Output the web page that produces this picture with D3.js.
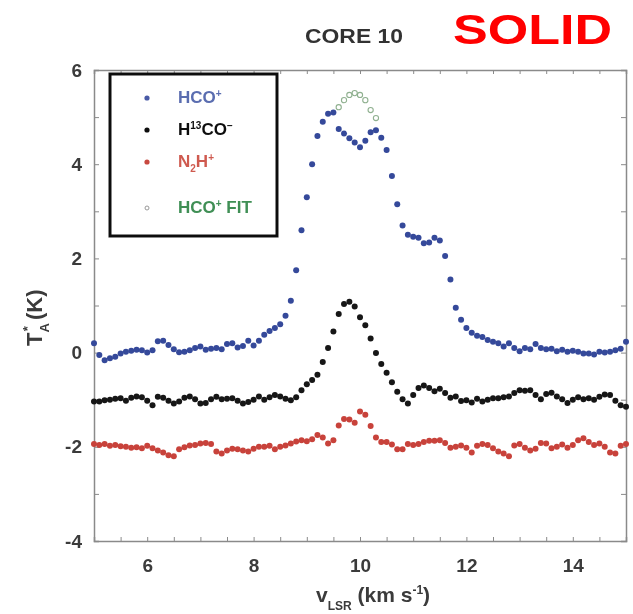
<!DOCTYPE html>
<html>
<head>
<meta charset="utf-8">
<script src="https://cdn.jsdelivr.net/npm/d3@7/dist/d3.min.js"></script>
<style>
  body { margin: 0; background: #fff; }
  text { font-family: "Liberation Sans", Arial, sans-serif; }
</style>
</head>
<body>
<div id="chart"></div>
<script>
// channel velocities (km/s)
var velocity = [
  5.0, 5.1, 5.2, 5.3, 5.4, 5.5, 5.6, 5.7, 5.8, 5.9,
  6.0, 6.1, 6.2, 6.3, 6.4, 6.5, 6.6, 6.7, 6.8, 6.9,
  7.0, 7.1, 7.2, 7.3, 7.4, 7.5, 7.6, 7.7, 7.8, 7.9,
  8.0, 8.1, 8.2, 8.3, 8.4, 8.5, 8.6, 8.7, 8.8, 8.9,
  9.0, 9.1, 9.2, 9.3, 9.4, 9.5, 9.6, 9.7, 9.8, 9.9,
  10.0, 10.1, 10.2, 10.3, 10.4, 10.5, 10.6, 10.7, 10.8, 10.9,
  11.0, 11.1, 11.2, 11.3, 11.4, 11.5, 11.6, 11.7, 11.8, 11.9,
  12.0, 12.1, 12.2, 12.3, 12.4, 12.5, 12.6, 12.7, 12.8, 12.9,
  13.0, 13.1, 13.2, 13.3, 13.4, 13.5, 13.6, 13.7, 13.8, 13.9,
  14.0, 14.1, 14.2, 14.3, 14.4, 14.5, 14.6, 14.7, 14.8, 14.9,
  15.0
];

// HCO+
var hcoPlus = [
  0.2, -0.05, -0.16, -0.12, -0.09, -0.02, 0.02, 0.04, 0.06, 0.05,
  0.0, 0.05, 0.24, 0.25, 0.16, 0.07, 0.01, 0.02, 0.05, 0.1,
  0.13, 0.06, 0.08, 0.1, 0.07, 0.18, 0.2, 0.11, 0.14, 0.25,
  0.15, 0.25, 0.38, 0.46, 0.52, 0.6, 0.78, 1.1, 1.75, 2.6,
  3.3, 4.0, 4.6, 4.9, 5.07, 5.1, 4.75, 4.65, 4.55, 4.46,
  4.36, 4.5, 4.68, 4.72, 4.56, 4.3, 3.75, 3.15, 2.7, 2.5,
  2.46, 2.44, 2.32, 2.34, 2.44, 2.38, 2.05, 1.55, 0.95, 0.7,
  0.52, 0.42, 0.36, 0.33, 0.27, 0.23, 0.2, 0.13, 0.2, 0.1,
  0.03, 0.1, 0.07, 0.18, 0.1, 0.07, 0.08, 0.03, 0.06, 0.02,
  0.04, 0.02, -0.02, -0.02, -0.04, 0.02, 0.0, 0.02, 0.05, 0.08,
  0.23
];

// H13CO- (offset -1)
var h13co = [
  -1.04, -1.04, -1.01, -1.0, -0.98, -0.97, -1.02, -0.96, -0.93, -0.95,
  -1.02, -1.12, -0.94, -0.96, -1.02, -1.08, -1.04, -0.96, -0.93, -0.99,
  -1.08, -1.07, -0.99, -0.94, -0.99, -0.98, -0.97, -1.02, -1.08, -1.05,
  -1.0, -0.93, -1.0, -0.95, -0.9, -0.93, -0.98, -1.01, -0.95, -0.8,
  -0.67, -0.58, -0.47, -0.2, 0.1, 0.45, 0.82, 1.03, 1.08, 0.98,
  0.75, 0.58, 0.3, -0.01, -0.24, -0.43, -0.63, -0.83, -0.99, -1.08,
  -0.9, -0.75, -0.7, -0.75, -0.82, -0.77, -0.86, -0.96, -0.93, -1.03,
  -1.01, -1.06, -0.98, -1.04, -1.0, -0.97, -0.97, -0.95, -0.93, -0.86,
  -0.8, -0.81, -0.8, -0.9, -0.99, -0.88, -0.85, -0.93, -0.99, -1.07,
  -1.0, -0.95, -0.99, -0.97, -1.0, -0.94, -0.89, -0.9, -1.02, -1.12,
  -1.15
];

// N2H+ (offset -2)
var n2hPlus = [
  -1.94, -1.96, -1.94, -1.98, -1.96, -1.99, -2.0, -2.02, -2.01, -2.03,
  -1.98, -2.03, -2.08, -2.12, -2.18, -2.2, -2.05, -2.01, -1.97, -1.96,
  -1.93, -1.92, -1.94, -2.1, -2.14, -2.08, -2.04, -2.05, -2.08, -2.1,
  -2.04, -2.0, -2.0, -1.98, -2.05, -2.0, -1.97, -1.93, -1.89, -1.86,
  -1.88, -1.84, -1.75, -1.8, -1.93, -1.86, -1.55, -1.41, -1.42, -1.49,
  -1.25, -1.32, -1.56, -1.8, -1.9, -1.9, -1.95, -2.05, -2.05, -1.94,
  -1.96, -1.94, -1.9, -1.87, -1.87, -1.86, -1.92, -2.02, -2.0, -1.97,
  -2.02, -2.12, -1.98, -1.94, -1.96, -2.03, -2.1, -2.14, -2.2, -1.97,
  -1.94, -2.02, -2.08, -2.04, -1.92, -1.93, -2.03, -2.0, -1.95, -2.02,
  -1.96, -1.86, -1.82, -1.9, -1.96, -1.93, -2.0, -2.12, -2.14, -1.98,
  -1.94
];

// HCO+ fit over the self-absorbed peak
var fitVelocity = [9.6, 9.7, 9.8, 9.9, 10.0, 10.1, 10.2, 10.3];
var fitValues = [5.21, 5.36, 5.47, 5.51, 5.47, 5.36, 5.15, 4.98];

var xLabelTicks = [6, 8, 10, 12, 14];
var yLabelTicks = [-4, -2, 0, 2, 4, 6];

var width = 633,
    height = 614;

var xScale = d3.scaleLinear().domain([5, 15]).range([94, 626]);
var yScale = d3.scaleLinear().domain([-4, 6]).range([541, 70]);

var svg = d3.select('#chart').append('svg')
    .attr('width', width)
    .attr('height', height);

// soft blur like the scanned figure
svg.append('defs').append('filter')
    .attr('id', 'soft')
    .append('feGaussianBlur')
    .attr('stdDeviation', 0.65);

var g = svg.append('g').attr('filter', 'url(#soft)');

// Axes (ticks inward on all four sides)
var xMinor = d3.range(5, 15.01, 0.5);
var yMinor = d3.range(-4, 6.01, 1);

function fmtX(d) { return xLabelTicks.indexOf(d) >= 0 ? d : ''; }
function fmtY(d) { return yLabelTicks.indexOf(d) >= 0 ? d : ''; }

var xAxis = d3.axisBottom(xScale).tickValues(xMinor).tickSize(-4).tickPadding(18).tickFormat(fmtX);
var xTop = d3.axisTop(xScale).tickValues(xMinor).tickSize(-4).tickFormat('');
var yAxis = d3.axisLeft(yScale).tickValues(yMinor).tickSize(-5).tickPadding(12).tickFormat(fmtY);
var yRight = d3.axisRight(yScale).tickValues(yMinor).tickSize(-5).tickFormat('');

g.append('g').attr('class', 'x-axis')
    .attr('transform', 'translate(0,' + yScale(-4) + ')').call(xAxis);
g.append('g').attr('class', 'x-top')
    .attr('transform', 'translate(0,' + yScale(6) + ')').call(xTop);
g.append('g').attr('class', 'y-axis')
    .attr('transform', 'translate(' + xScale(5) + ',0)').call(yAxis);
g.append('g').attr('class', 'y-right')
    .attr('transform', 'translate(' + xScale(15) + ',0)').call(yRight);

g.selectAll('.domain').attr('stroke', '#8a8a8a').attr('stroke-width', 1.5);
g.selectAll('.tick line').attr('stroke', '#8a8a8a');
g.selectAll('.tick text')
    .attr('font-size', 19)
    .attr('font-weight', 'bold')
    .attr('fill', '#3a3a3a');

// Data points
function drawSeries(values, color) {
    g.append('g').selectAll('circle')
        .data(values)
        .enter().append('circle')
        .attr('cx', function(d, i) { return xScale(velocity[i]); })
        .attr('cy', function(d) { return yScale(d); })
        .attr('r', 3)
        .attr('fill', color);
}
drawSeries(n2hPlus, '#c8423a');
drawSeries(h13co, '#141414');
drawSeries(hcoPlus, '#34489a');

// fit as open circles
g.append('g').selectAll('circle')
    .data(fitValues)
    .enter().append('circle')
    .attr('cx', function(d, i) { return xScale(fitVelocity[i]); })
    .attr('cy', function(d) { return yScale(d); })
    .attr('r', 2.6)
    .attr('fill', 'none')
    .attr('stroke', '#8fb08f')
    .attr('stroke-width', 1.1);

// Legend
var legend = g.append('g').attr('class', 'legend');
legend.append('rect')
    .attr('x', 110).attr('y', 74)
    .attr('width', 167).attr('height', 162)
    .attr('fill', '#fff')
    .attr('stroke', '#111')
    .attr('stroke-width', 3);

var legendItems = [
    {y: 103, color: '#4a5aa6', text: '#5a6db0', open: false, parts: [['HCO', 0], ['+', -6]]},
    {y: 135, color: '#111', text: '#111', open: false, parts: [['H', 0], ['13', -6], ['CO', 0], ['\u2212', -6]]},
    {y: 167, color: '#c84a40', text: '#cf5a50', open: false, parts: [['N', 0], ['2', 5], ['H', 0], ['+', -6]]},
    {y: 213, color: '#999', text: '#3f8f55', open: true, parts: [['HCO', 0], ['+', -6], [' FIT', 0]]}
];

legendItems.forEach(function(item) {
    legend.append('circle')
        .attr('cx', 147).attr('cy', item.y - 5)
        .attr('r', item.open ? 2 : 2.6)
        .attr('fill', item.open ? 'none' : item.color)
        .attr('stroke', item.open ? item.color : 'none');
    var t = legend.append('text')
        .attr('x', 178).attr('y', item.y)
        .attr('font-size', 17)
        .attr('font-weight', 'bold')
        .attr('fill', item.text);
    var prev = 0;
    item.parts.forEach(function(p) {
        t.append('tspan')
            .attr('dy', p[1] - prev)
            .attr('font-size', p[1] === 0 ? 17 : 10)
            .text(p[0]);
        prev = p[1];
    });
});

// Titles
g.append('text')
    .attr('x', 305).attr('y', 43)
    .attr('font-size', 20)
    .attr('font-weight', 'bold')
    .attr('fill', '#333')
    .attr('textLength', 98)
    .attr('lengthAdjust', 'spacingAndGlyphs')
    .text('CORE 10');

svg.append('text')
    .attr('x', 453).attr('y', 44)
    .attr('font-size', 42)
    .attr('font-weight', 'bold')
    .attr('fill', '#ff0000')
    .attr('textLength', 159)
    .attr('lengthAdjust', 'spacingAndGlyphs')
    .text('SOLID');

// x axis title: v_LSR (km s^-1)
var xt = g.append('text')
    .attr('x', 316).attr('y', 602)
    .attr('font-size', 21)
    .attr('font-weight', 'bold')
    .attr('fill', '#3a3a3a');
xt.append('tspan').text('v');
xt.append('tspan').attr('dy', 8).attr('font-size', 12).text('LSR');
xt.append('tspan').attr('dy', -8).text(' (km s');
xt.append('tspan').attr('dy', -8).attr('font-size', 12).text('-1');
xt.append('tspan').attr('dy', 8).text(')');

// y axis title: T_A^* (K)
var yt = g.append('text')
    .attr('transform', 'translate(42,' + 346 + ') rotate(-90)')
    .attr('font-size', 22)
    .attr('font-weight', 'bold')
    .attr('fill', '#3a3a3a');
yt.append('tspan').text('T');
yt.append('tspan').attr('dy', 7).attr('font-size', 13).text('A');
yt.append('tspan').attr('dx', -8).attr('dy', -17).attr('font-size', 13).text('*');
yt.append('tspan').attr('dy', 10).text(' (K)');
</script>
</body>
</html>
